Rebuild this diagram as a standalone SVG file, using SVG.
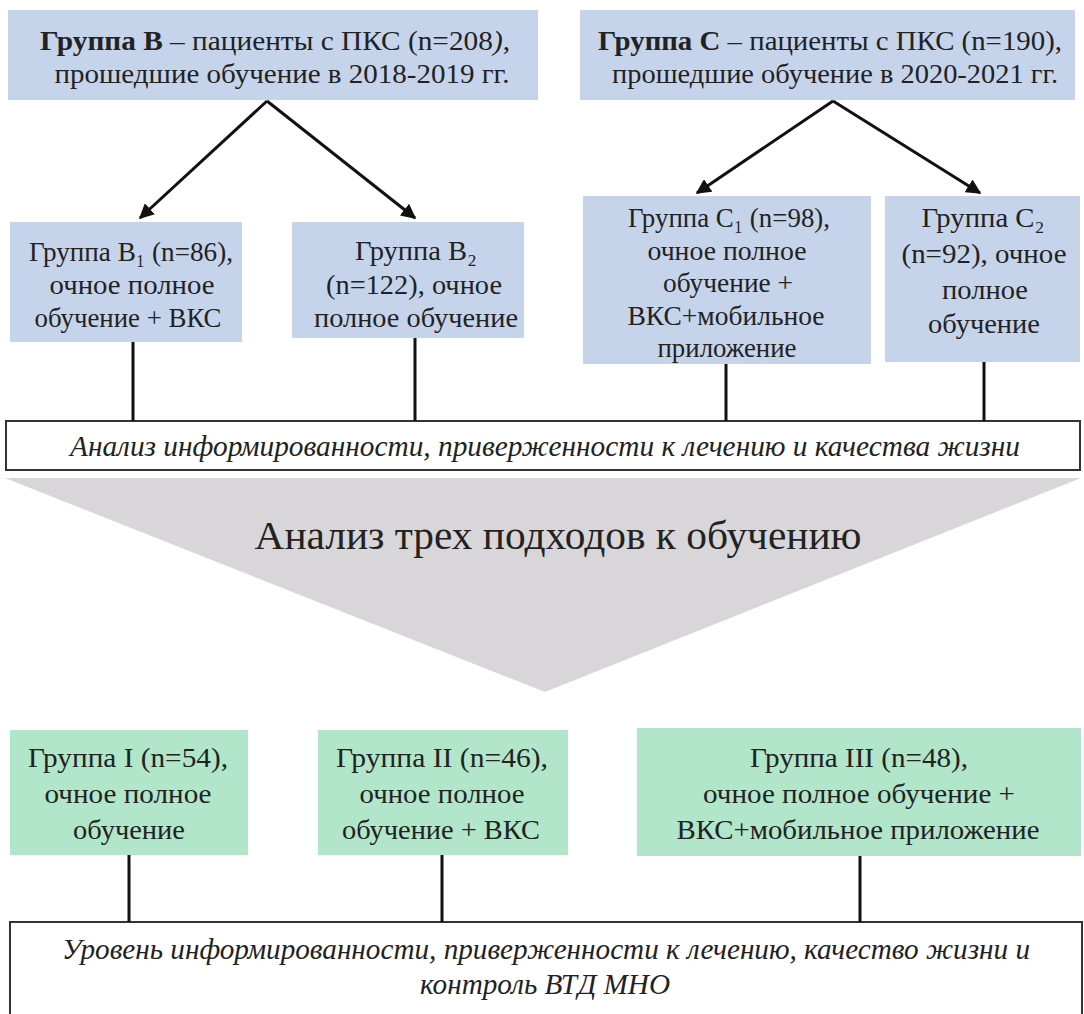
<svg xmlns="http://www.w3.org/2000/svg" width="1084" height="1014" viewBox="0 0 1084 1014" font-family="Liberation Serif, serif">
<defs>
<style>
.blue{fill:#c6d4eb}
.green{fill:#b1e6ca}
text{fill:#222;text-anchor:middle}
.t{font-size:28px}
.it{font-size:30px;font-style:italic}
.big{font-size:40px}
.b{font-weight:bold}
.ln{stroke:#111;stroke-width:3;fill:none}
.frame{fill:#fff;stroke:#333;stroke-width:2}
</style>
<marker id="ah" viewBox="0 0 10 10" refX="9" refY="5" markerWidth="5" markerHeight="5" orient="auto" markerUnits="strokeWidth">
<path d="M0,0 L10,5 L0,10 z" fill="#111"/>
</marker>
</defs>
<rect width="1084" height="1014" fill="#fff"/>

<g id="groupB">
<rect class="blue" x="8" y="10" width="530" height="90"/>
<text class="t" x="275" y="50" textLength="470" lengthAdjust="spacingAndGlyphs"><tspan class="b">Группа В</tspan> – пациенты  с ПКС  (n=208<tspan font-style="italic">)</tspan>,</text>
<text class="t" x="282" y="83" textLength="455" lengthAdjust="spacingAndGlyphs">прошедшие обучение  в 2018-2019  гг.</text>
</g>
<g id="groupC">
<rect class="blue" x="580" y="10" width="495" height="90"/>
<text class="t" x="830" y="50" textLength="464" lengthAdjust="spacingAndGlyphs"><tspan class="b">Группа С</tspan> – пациенты  с ПКС  (n=190),</text>
<text class="t" x="835" y="83" textLength="446" lengthAdjust="spacingAndGlyphs">прошедшие обучение  в 2020-2021  гг.</text>
</g>

<g id="groupB1">
<rect class="blue" x="10" y="222" width="232" height="120"/>
<text class="t" x="131" y="261" textLength="204" lengthAdjust="spacingAndGlyphs">Группа В₁ (n=86),</text>
<text class="t" x="132" y="294" textLength="165" lengthAdjust="spacingAndGlyphs">очное полное</text>
<text class="t" x="128" y="327" textLength="187" lengthAdjust="spacingAndGlyphs">обучение + ВКС</text>
</g>
<g id="groupB2">
<rect class="blue" x="292" y="222" width="232" height="116"/>
<text class="t" x="416" y="260" textLength="122" lengthAdjust="spacingAndGlyphs">Группа В₂</text>
<text class="t" x="414" y="294" textLength="176" lengthAdjust="spacingAndGlyphs">(n=122), очное</text>
<text class="t" x="416" y="327" textLength="204" lengthAdjust="spacingAndGlyphs">полное обучение</text>
</g>
<g id="groupC1">
<rect class="blue" x="583" y="196" width="288" height="168"/>
<text class="t" x="729" y="227" textLength="202" lengthAdjust="spacingAndGlyphs">Группа С₁ (n=98),</text>
<text class="t" x="727" y="260" textLength="159" lengthAdjust="spacingAndGlyphs">очное полное</text>
<text class="t" x="728" y="292" textLength="130" lengthAdjust="spacingAndGlyphs">обучение +</text>
<text class="t" x="726" y="325" textLength="197" lengthAdjust="spacingAndGlyphs">ВКС+мобильное</text>
<text class="t" x="727" y="357" textLength="139" lengthAdjust="spacingAndGlyphs">приложение</text>
</g>
<g id="groupC2">
<rect class="blue" x="885" y="196" width="195" height="166"/>
<text class="t" x="983" y="227" textLength="123" lengthAdjust="spacingAndGlyphs">Группа С₂</text>
<text class="t" x="984" y="263" textLength="165" lengthAdjust="spacingAndGlyphs">(n=92), очное</text>
<text class="t" x="985" y="299" textLength="86" lengthAdjust="spacingAndGlyphs">полное</text>
<text class="t" x="984" y="333" textLength="112" lengthAdjust="spacingAndGlyphs">обучение</text>
</g>

<g id="analysis1">
<rect class="frame" x="6" y="421" width="1074" height="49"/>
<text class="it" x="545" y="456" textLength="950" lengthAdjust="spacingAndGlyphs">Анализ информированности, приверженности к лечению и качества жизни</text>
</g>

<g id="approaches">
<polygon points="5,478 1081,478 545,692" fill="#d8d6d8"/>
<text class="big" x="558" y="549" textLength="607" lengthAdjust="spacingAndGlyphs">Анализ трех подходов к обучению</text>
</g>

<g id="group1">
<rect class="green" x="10" y="730" width="238" height="125"/>
<text class="t" x="128" y="767" textLength="200" lengthAdjust="spacingAndGlyphs">Группа I (n=54),</text>
<text class="t" x="128" y="803" textLength="167" lengthAdjust="spacingAndGlyphs">очное полное</text>
<text class="t" x="129" y="839" textLength="112" lengthAdjust="spacingAndGlyphs">обучение</text>
</g>
<g id="group2">
<rect class="green" x="318" y="730" width="250" height="125"/>
<text class="t" x="442" y="767" textLength="212" lengthAdjust="spacingAndGlyphs">Группа II (n=46),</text>
<text class="t" x="442" y="803" textLength="165" lengthAdjust="spacingAndGlyphs">очное полное</text>
<text class="t" x="441" y="839" textLength="198" lengthAdjust="spacingAndGlyphs">обучение + ВКС</text>
</g>
<g id="group3">
<rect class="green" x="637" y="728" width="444" height="128"/>
<text class="t" x="859" y="767" textLength="218" lengthAdjust="spacingAndGlyphs">Группа III (n=48),</text>
<text class="t" x="859" y="803" textLength="312" lengthAdjust="spacingAndGlyphs">очное полное  обучение +</text>
<text class="t" x="858" y="839" textLength="363" lengthAdjust="spacingAndGlyphs">ВКС+мобильное  приложение</text>
</g>

<g id="result">
<rect class="frame" x="10" y="922" width="1072" height="100"/>
<text class="it" x="546" y="959" textLength="968" lengthAdjust="spacingAndGlyphs">Уровень информированности, приверженности к лечению, качество жизни и</text>
<text class="it" x="545" y="994" textLength="250" lengthAdjust="spacingAndGlyphs">контроль ВТД МНО</text>
</g>

<g id="connectors">
<line class="ln" x1="267" y1="101" x2="140" y2="218" marker-end="url(#ah)"/>
<line class="ln" x1="267" y1="101" x2="415" y2="218" marker-end="url(#ah)"/>
<line class="ln" x1="833" y1="101" x2="697" y2="193" marker-end="url(#ah)"/>
<line class="ln" x1="833" y1="101" x2="980" y2="193" marker-end="url(#ah)"/>
<line class="ln" x1="133" y1="342" x2="133" y2="421"/>
<line class="ln" x1="415" y1="338" x2="415" y2="421"/>
<line class="ln" x1="726" y1="364" x2="726" y2="421"/>
<line class="ln" x1="984" y1="362" x2="984" y2="421"/>
<line class="ln" x1="129" y1="855" x2="129" y2="922"/>
<line class="ln" x1="442" y1="855" x2="442" y2="922"/>
<line class="ln" x1="860" y1="856" x2="860" y2="922"/>
</g>
</svg>
